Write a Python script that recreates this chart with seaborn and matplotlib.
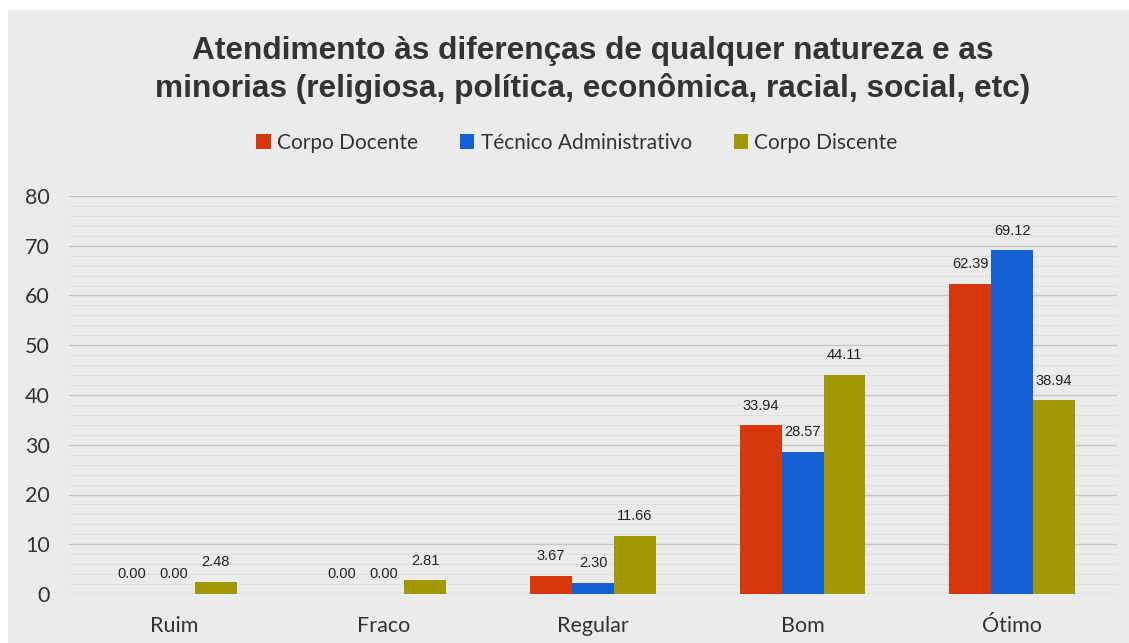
import numpy as np
import pandas as pd
import matplotlib
matplotlib.use("Agg")
import matplotlib.pyplot as plt
import seaborn as sns
from matplotlib.patches import Rectangle
from matplotlib.ticker import MultipleLocator

categories = ["Ruim", "Fraco", "Regular", "Bom", "Ótimo"]
groups = ["Corpo Docente", "Técnico Administrativo", "Corpo Discente"]
docente = [0.00, 0.00, 3.67, 33.94, 62.39]
tecnico = [0.00, 0.00, 2.30, 28.57, 69.12]
discente = [2.48, 2.81, 11.66, 44.11, 38.94]

colors = ["#d6380c", "#1660d6", "#a19705"]

df = pd.DataFrame({
    "categoria": categories * 3,
    "grupo": [g for g in groups for _ in categories],
    "valor": docente + tecnico + discente,
})

sns.set_style("white")
plt.rcParams["font.family"] = ["Liberation Sans", "DejaVu Sans"]

W, H = 1129, 643
fig = plt.figure(figsize=(11.29, 6.43), dpi=100)
fig.patch.set_facecolor("white")
bg = "#ebebeb"
fig.patches.append(Rectangle((8 / W, 0), 1, 1 - 10 / H, transform=fig.transFigure,
                             facecolor=bg, edgecolor="none", zorder=-10))

ax = fig.add_axes([69 / W, 49 / H, 1048 / W, 398 / H])
ax.set_facecolor(bg)
sns.barplot(data=df, x="categoria", y="valor", hue="grupo", palette=colors,
            width=0.6, saturation=1, linewidth=0, ax=ax, legend=True)

for container in ax.containers:
    ax.bar_label(container, fmt="%.2f", padding=9, fontsize=10.5, color="#222222")

ax.set_ylim(0, 80)
ax.yaxis.set_major_locator(MultipleLocator(10))
ax.yaxis.set_minor_locator(MultipleLocator(2))
ax.grid(axis="y", which="major", color="#c6c6c6", linewidth=1.0, zorder=0)
ax.grid(axis="y", which="minor", color="#dedede", linewidth=0.6, zorder=0)
ax.set_axisbelow(True)
for s in ax.spines.values():
    s.set_visible(False)
ax.tick_params(axis="both", which="both", length=0)
ax.tick_params(axis="y", pad=14)
ax.tick_params(axis="x", pad=16)
for lbl in ax.get_xticklabels() + ax.get_yticklabels():
    lbl.set_fontfamily(["Lato", "DejaVu Sans"])
    lbl.set_fontsize(15.5)
    lbl.set_color("#333333")
ax.set_xlabel("")
ax.set_ylabel("")

ax.legend(loc="center", bbox_to_anchor=(577 / W, 1 - 143 / H), bbox_transform=fig.transFigure,
          ncol=3, frameon=False, handlelength=0.7, handleheight=0.7, handletextpad=0.3,
          columnspacing=2.0, prop={"family": ["Lato", "DejaVu Sans"], "size": 15})
for t in ax.get_legend().get_texts():
    t.set_color("#333333")

fig.text(593 / W, 1 - 70 / H,
         "Atendimento às diferenças de qualquer natureza e as\nminorias (religiosa, política, econômica, racial, social, etc)",
         ha="center", va="center", fontsize=22.8, fontweight="bold", color="#333333", linespacing=1.25)

fig.savefig("out.png", dpi=100, facecolor=fig.get_facecolor())
